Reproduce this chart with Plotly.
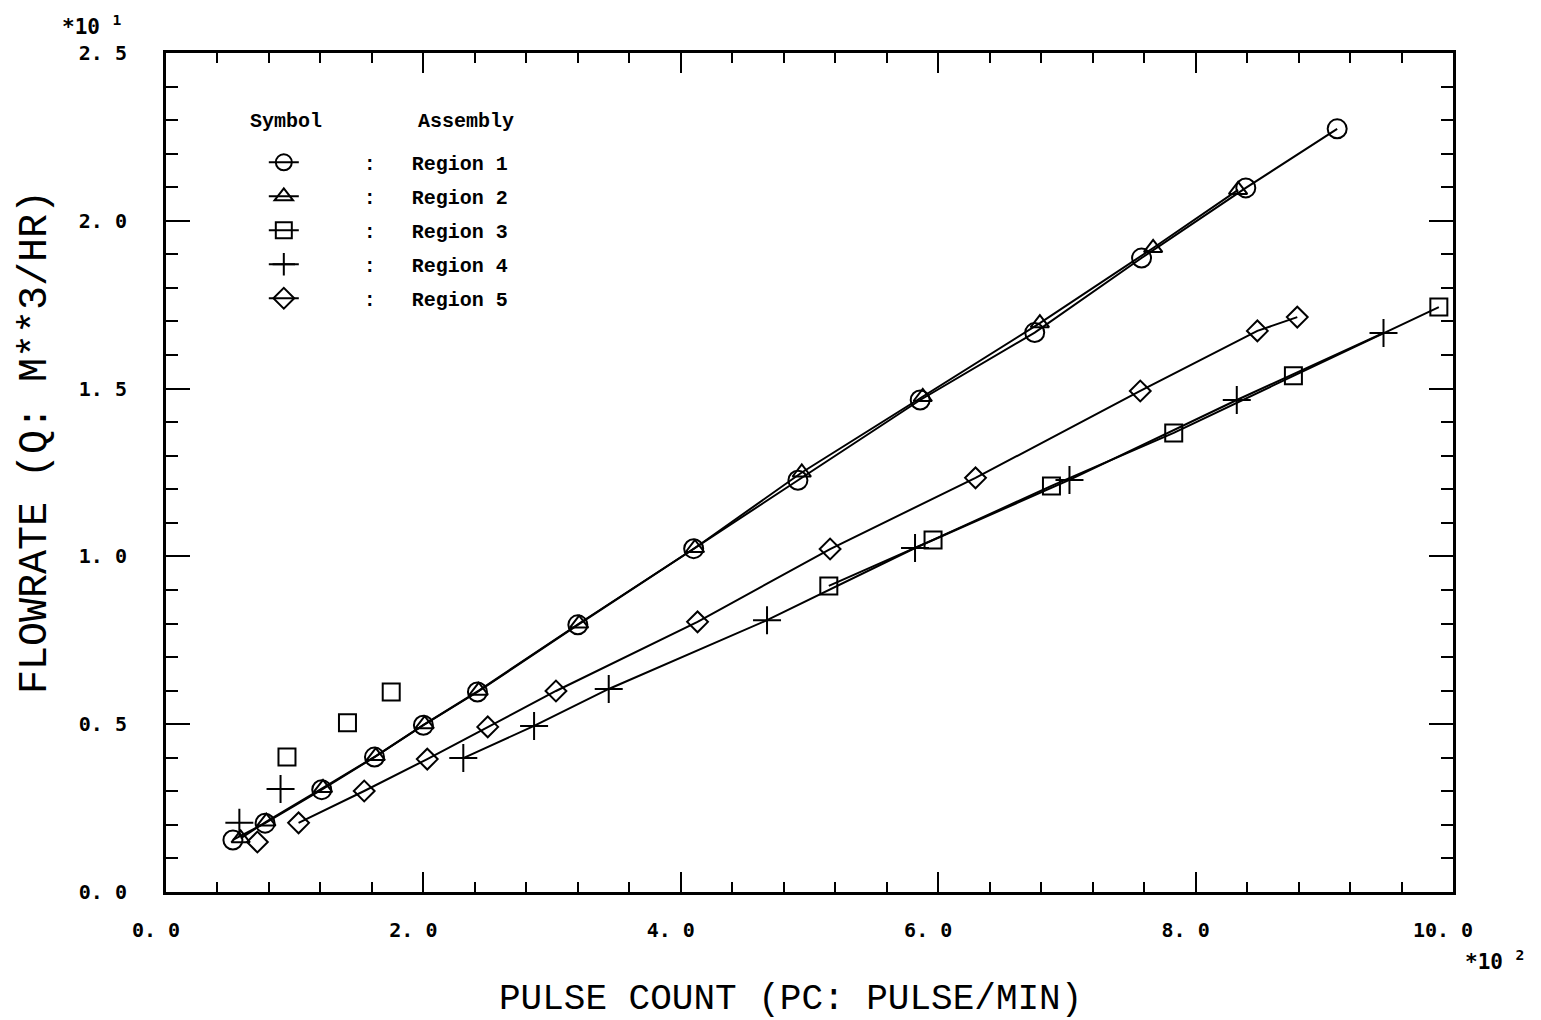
import plotly.graph_objects as go

# ---- data (x in units of 10^2 pulse/min, y in units of 10^1 m^3/hr) ----
r1_x = [0.52, 0.77, 1.21, 1.62, 2.00, 2.42, 3.20, 4.10, 4.91, 5.86, 6.75, 7.58, 8.39, 9.10]
r1_y = [0.155, 0.205, 0.305, 0.402, 0.497, 0.596, 0.796, 1.023, 1.227, 1.466, 1.667, 1.889, 2.098, 2.274]

r2_x = [0.58, 0.78, 1.22, 1.63, 2.01, 2.43, 3.21, 4.11, 4.94, 5.88, 6.79, 7.67, 8.33]
r2_y = [0.160, 0.210, 0.310, 0.405, 0.500, 0.600, 0.800, 1.025, 1.250, 1.475, 1.695, 1.919, 2.092]

r3_x = [5.15, 5.96, 6.88, 7.83, 8.76, 9.89]
r3_y = [0.912, 1.049, 1.210, 1.368, 1.538, 1.743]
r3_extra_x = [0.94, 1.41, 1.75]
r3_extra_y = [0.402, 0.504, 0.596]

r4_x = [2.31, 2.86, 3.44, 4.67, 5.82, 7.02, 8.32, 9.46]
r4_y = [0.399, 0.495, 0.605, 0.810, 1.025, 1.228, 1.466, 1.666]
r4_extra_x = [0.57, 0.89]
r4_extra_y = [0.206, 0.307]

r5_x = [1.03, 1.54, 2.03, 2.50, 3.03, 4.13, 5.16, 6.29, 7.57, 8.48, 8.79]
r5_y = [0.206, 0.301, 0.396, 0.492, 0.599, 0.805, 1.022, 1.234, 1.493, 1.672, 1.713]
r5_extra_x = [0.71]
r5_extra_y = [0.149]

x_ticks = [0, 2, 4, 6, 8, 10]
x_tick_labels = ["0. 0", "2. 0", "4. 0", "6. 0", "8. 0", "10. 0"]
y_ticks = [0, 0.5, 1.0, 1.5, 2.0, 2.5]
y_tick_labels = ["0. 0", "0. 5", "1. 0", "1. 5", "2. 0", "2. 5"]

series = [
    ("Region 1", r1_x, r1_y, None, None, "circle-open", 19),
    ("Region 2", r2_x, r2_y, None, None, "triangle-up-open", 16),
    ("Region 3", r3_x, r3_y, r3_extra_x, r3_extra_y, "square-open", 17),
    ("Region 4", r4_x, r4_y, r4_extra_x, r4_extra_y, "cross-thin-open", 20),
    ("Region 5", r5_x, r5_y, r5_extra_x, r5_extra_y, "diamond-open", 16),
]

NB = "\u00a0"
fig = go.Figure()
for i, (name, xs, ys, ex, ey, sym, size) in enumerate(series):
    label = NB * 5 + ":" + NB * 3 + name
    fig.add_trace(go.Scatter(
        x=xs, y=ys, mode="lines+markers", name=label, legendgroup=f"g{i}",
        line=dict(color="black", width=2),
        marker=dict(symbol=sym, size=size, color="black",
                    line=dict(color="black", width=2)),
    ))
    if ex:
        fig.add_trace(go.Scatter(
            x=ex, y=ey, mode="markers", name=name, legendgroup=f"g{i}",
            showlegend=False,
            marker=dict(symbol=sym, size=size, color="black",
                        line=dict(color="black", width=2)),
        ))

tickfont = dict(family="DejaVu Sans Mono", size=20, color="black", weight="bold")
legfont = dict(family="Liberation Mono", size=20, color="black", weight="bold")
multfont = dict(family="DejaVu Sans Mono", size=21, color="black", weight="bold")

fig.update_layout(
    width=1533, height=1012,
    paper_bgcolor="white", plot_bgcolor="white",
    margin=dict(l=158, r=88, t=45, b=128),
    showlegend=True,
    legend=dict(
        x=0.076, y=0.893, xanchor="left", yanchor="top",
        bgcolor="rgba(0,0,0,0)", borderwidth=0,
        tracegroupgap=5, font=legfont,
    ),
    xaxis=dict(
        range=[0, 10], tickvals=x_ticks, ticktext=x_tick_labels,
        showgrid=False, zeroline=False,
        showline=True, linecolor="black", linewidth=3, mirror="ticks",
        ticks="inside", ticklen=20, tickwidth=2, tickcolor="black",
        minor=dict(dtick=0.4, ticks="inside", ticklen=10, tickwidth=2, tickcolor="black", showgrid=False),
        tickfont=tickfont, ticklabelstandoff=18, ticklabelshift=-10,
    ),
    yaxis=dict(
        range=[0, 2.5], tickvals=y_ticks, ticktext=y_tick_labels,
        showgrid=False, zeroline=False,
        showline=True, linecolor="black", linewidth=3, mirror="ticks",
        ticks="inside", ticklen=24, tickwidth=2, tickcolor="black",
        minor=dict(dtick=0.1, ticks="inside", ticklen=12, tickwidth=2, tickcolor="black", showgrid=False),
        tickfont=tickfont, ticklabelstandoff=32,
    ),
    annotations=[
        # axis titles
        dict(text="PULSE COUNT (PC: PULSE/MIN)", xref="paper", yref="paper",
             x=0.485, y=-0.1287, xanchor="center", yanchor="middle", showarrow=False,
             font=dict(family="Liberation Mono", size=36, color="black")),
        dict(text="FLOWRATE (Q: M**3/HR)", xref="paper", yref="paper",
             x=-0.1012, y=0.536, xanchor="center", yanchor="middle", showarrow=False,
             textangle=-90,
             font=dict(family="Liberation Mono", size=40, color="black")),
        # legend header
        dict(text="Symbol", xref="paper", yref="paper", x=0.0637, y=0.918,
             xanchor="left", yanchor="middle", showarrow=False, font=legfont),
        dict(text="Assembly", xref="paper", yref="paper", x=0.194, y=0.918,
             xanchor="left", yanchor="middle", showarrow=False, font=legfont),
        # multipliers
        dict(text="*10 <sup>1</sup>", xref="paper", yref="paper", x=-0.082, y=1.0,
             xanchor="left", yanchor="bottom", showarrow=False, yshift=12,
             font=multfont),
        dict(text="*10 <sup>2</sup>", xref="paper", yref="paper", x=1.008, y=0,
             xanchor="left", yanchor="top", showarrow=False, yshift=-52,
             font=multfont),
    ],
)

fig.write_html("out.html")
